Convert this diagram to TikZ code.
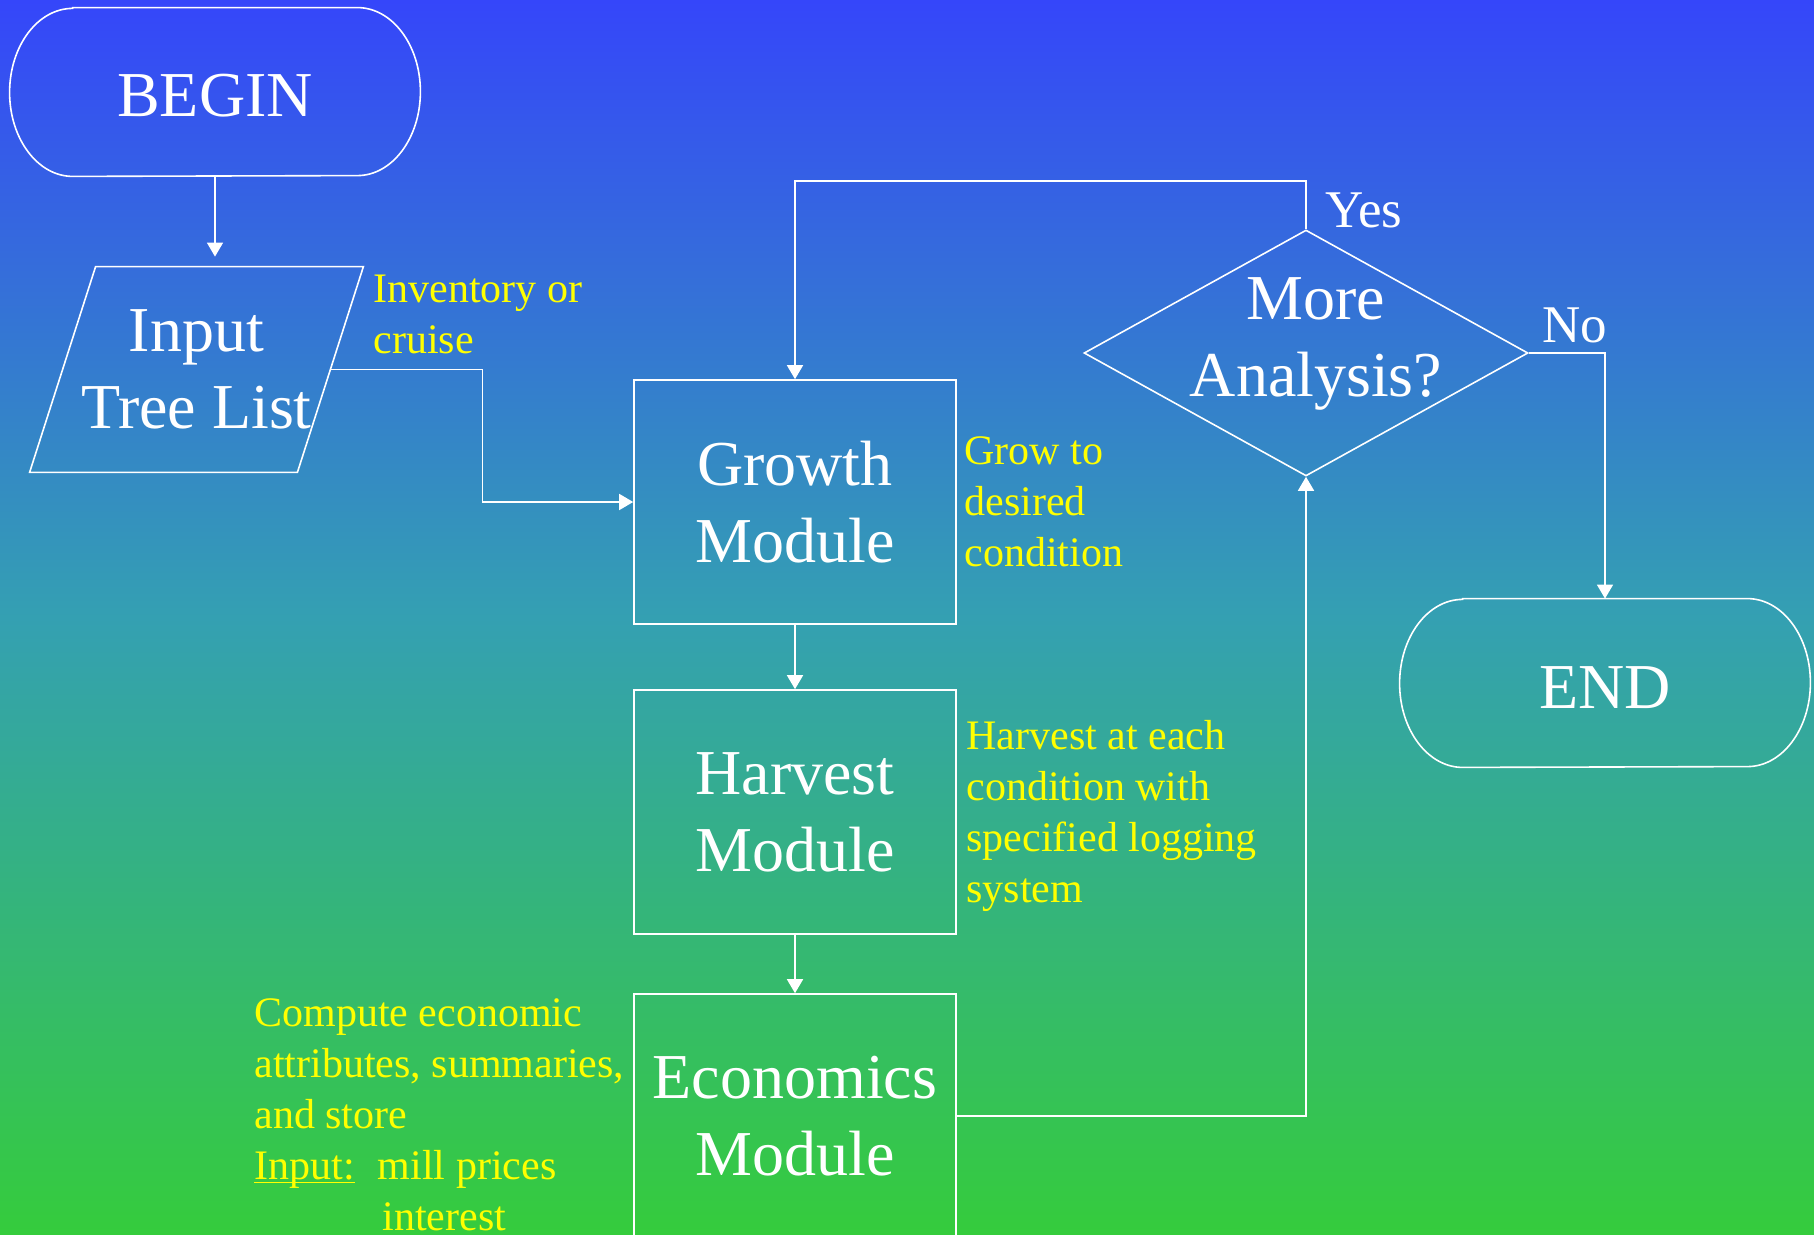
\documentclass[tikz,border=0pt]{standalone}
\usepackage{fontspec}
\setmainfont{Liberation Serif}
\usetikzlibrary{
    arrows.meta,
    shapes.geometric,
    positioning
}
\definecolor{skytop}{HTML}{3546FA}
\definecolor{skymid}{HTML}{34A0B2}
\definecolor{skybottom}{HTML}{35CC3C}
\definecolor{note}{HTML}{FFFF00}
\tikzset{
    % Text inside the boxes
    box text/.style={
        align=center,
        font=\fontsize{32}{38.5}\selectfont,
        text=white
    },
    % Start / stop node (outline is drawn afterwards)
    terminal/.style={
        box text,
        rectangle,
        minimum width=205pt,
        minimum height=84pt,
        text height=25pt,
        text depth=0pt,
        inner sep=0pt
    },
    % Data input (parallelogram drawn afterwards)
    io box/.style={
        box text,
        rectangle,
        minimum width=166.5pt,
        minimum height=102.5pt,
        inner sep=0pt
    },
    % Process box
    module/.style={
        box text,
        rectangle,
        draw=white,
        line width=0.8pt,
        minimum width=161pt,
        minimum height=122pt
    },
    % Decision
    decision/.style={
        diamond,
        draw=white,
        line width=0.8pt,
        minimum width=222pt,
        minimum height=123pt,
        inner sep=0pt
    },
    % Outlines drawn from node corners
    outline/.style={
        draw=white,
        line width=0.8pt
    },
    % Arrow style
    flow/.style={
        -{Triangle[length=7pt, width=8pt]},
        draw=white,
        line width=0.8pt
    },
    % Yellow comments
    note text/.style={
        anchor=north west,
        inner sep=0pt,
        align=left,
        font=\fontsize{21}{25.5}\selectfont,
        text=note
    },
    % Yes / No
    branch label/.style={
        anchor=base west,
        inner sep=0pt,
        font=\fontsize{26.5}{32}\selectfont,
        text=white
    }
}

\begin{document}
\begin{tikzpicture}[x=0.5pt, y=-0.5pt]

    % Background
    \useasboundingbox (0,0) rectangle (1814,1235);
    \clip (0,0) rectangle (1814,1235);
    \fill[top color=skytop, bottom color=skybottom, middle color=skymid] (0,0) rectangle (1814,1235);

    % Start, input and modules
    \node[terminal] (begin) at (215,92) {BEGIN};
    \node[io box] (input) at (196.5,369.5) {Input\\Tree List};
    \node[module] (growth) at (795,502) {Growth\\Module};
    \node[module, below=32.2pt of growth] (harvest) {Harvest\\Module};
    \node[module, below=29.2pt of harvest] (economics) {Economics\\Module};

    % Decision and end
    \node[decision] (more) at (1306,353) {};
    \node[box text] (moretext) at (1316,344) {More\\Analysis?};
    \node[terminal] (end) at (1605,683) {END};

    \foreach \t in {begin,end}
        \draw[outline] ([xshift=31.5pt]\t.north west) -- ([xshift=-31.5pt]\t.north east)
            arc[start angle=90, end angle=-90, x radius=31.5pt, y radius=42pt]
            -- ([xshift=31.5pt]\t.south west)
            arc[start angle=270, end angle=90, x radius=31.5pt, y radius=42pt] -- cycle;

    \draw[outline] ([xshift=33pt]input.north west) -- (input.north east)
        -- ([xshift=-33pt]input.south east) -- (input.south west) -- cycle;

    % Comments
    \node[note text] (inventory) at (373,274.5) {Inventory or\\cruise};
    \node[note text] (grownote) at (964,436.5) {Grow to\\desired\\condition};
    \node[note text] (harvestnote) at (966,719.5) {Harvest at each\\condition with\\specified logging\\system};
    \node[note text] (econnote) at (254,998) {Compute economic\\attributes, summaries,\\and store\\\makebox[61.75pt][l]{\underline{\smash{Input:}}}mill prices\\\hspace*{64pt}interest};

    % Connections
    \draw[flow, shorten >=5pt] (begin.south) -- (begin.south |- input.north);
    \draw[flow] ([xshift=-16.5pt]input.east) -- ++(152,0) |- (growth.west);
    \draw[flow] (growth) -- (harvest);
    \draw[flow] (harvest) -- (economics);
    \draw[flow] (economics.east) -| (more.south);
    \draw[flow] (more.north) -- ++(0,-48) -| (growth.north);
    \draw[flow] (more.east) -| (end.north);

    \node[branch label] (yes) at (1325,228) {Yes};
    \node[branch label] (no) at (1542,343) {No};

\end{tikzpicture}
\end{document}
